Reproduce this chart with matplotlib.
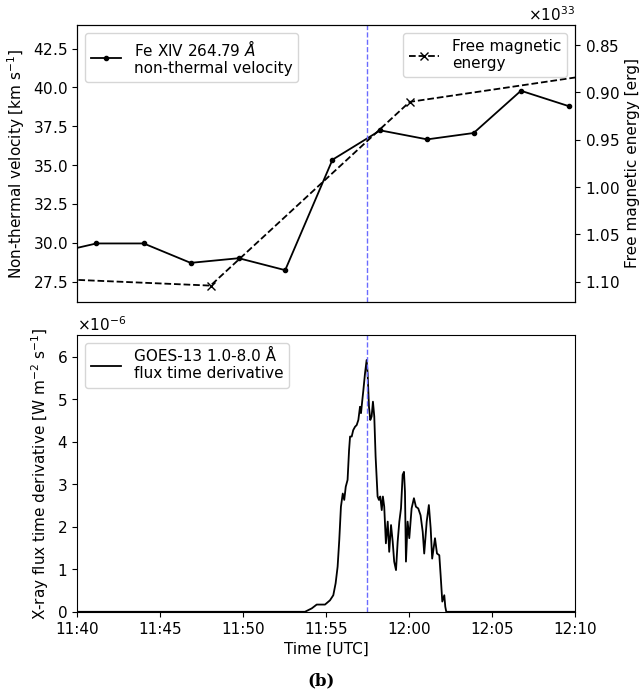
import numpy as np
import matplotlib
matplotlib.use("Agg")
import matplotlib.pyplot as plt

plt.rcParams['axes.formatter.use_mathtext'] = True
plt.rcParams['font.size'] = 11

# time in minutes after 11:40 UTC
vel_t = [-1.69, 1.16, 4.01, 6.84, 9.74, 12.54, 15.39, 18.27, 21.10, 23.90, 26.75, 29.63]
vel = [29.25, 29.95, 29.95, 28.7, 29.0, 28.23, 35.34, 37.23, 36.65, 37.06, 39.78, 38.79]

energy_t = [-3.96, 8.04, 20.04, 32.04]
energy = [1.095e33, 1.104e33, 0.910e33, 0.879e33]

# GOES derivative trace (x1e-6 W m^-2 s^-1)
goes_t = [0.0, 13.60, 13.73, 14.14, 14.44, 14.94, 15.24, 15.44, 15.58, 15.70,
          15.80, 15.90, 16.01, 16.10, 16.19, 16.30, 16.39, 16.45, 16.55, 16.64,
          16.75, 16.85, 16.95, 17.05, 17.11, 17.19, 17.25, 17.35, 17.45, 17.51,
          17.59, 17.67, 17.75, 17.83, 17.91, 17.99, 18.11, 18.19, 18.27, 18.36,
          18.43, 18.51, 18.61, 18.72, 18.81, 18.92, 19.02, 19.11, 19.22, 19.32,
          19.42, 19.52, 19.62, 19.70, 19.76, 19.82, 19.92, 20.02, 20.16, 20.30,
          20.42, 20.56, 20.70, 20.83, 20.92, 21.07, 21.20, 21.31, 21.40, 21.57,
          21.69, 21.83, 21.91, 22.01, 22.13, 22.19, 22.25, 30.0]
goes = [0.0, 0.0, 0.0, 0.08, 0.17, 0.17, 0.27, 0.39, 0.67, 1.06,
        1.69, 2.47, 2.78, 2.63, 2.94, 3.1, 3.8, 4.12, 4.12, 4.27,
        4.35, 4.39, 4.51, 4.82, 4.67, 4.98, 5.2, 5.6, 5.92, 5.6,
        4.82, 4.51, 4.59, 4.94, 4.59, 3.65, 2.71, 2.63, 2.71, 2.39,
        2.71, 2.47, 1.61, 2.12, 1.41, 2.04, 1.65, 1.18, 0.98, 1.65,
        2.12, 2.43, 3.22, 3.29, 2.82, 1.18, 2.12, 1.73, 2.43, 2.67,
        2.47, 2.43, 2.27, 1.88, 1.37, 2.12, 2.51, 1.96, 1.25, 1.73,
        1.37, 1.33, 0.86, 0.24, 0.39, 0.12, 0.0, 0.0]

tick_pos = [0, 5, 10, 15, 20, 25, 30]
tick_labels = ["11:40", "11:45", "11:50", "11:55", "12:00", "12:05", "12:10"]
vel_ticks = [27.5, 30.0, 32.5, 35.0, 37.5, 40.0, 42.5]
energy_ticks = [0.85e33, 0.90e33, 0.95e33, 1.00e33, 1.05e33, 1.10e33]
peak_t = 17.47

fig = plt.figure(figsize=(6.43, 7.0), dpi=100)
ax1 = fig.add_axes([0.12, 0.569, 0.774, 0.395])
ax3 = fig.add_axes([0.12, 0.126, 0.774, 0.395])

ax1.plot(vel_t, vel, 'k.-', lw=1.3, ms=6, label="Fe XIV 264.79 $Å$\nnon-thermal velocity")
ax1.set_xlim(0, 30)
ax1.set_ylim(26.2, 44.0)
ax1.set_yticks(vel_ticks)
ax1.set_xticks([])
ax1.set_ylabel("Non-thermal velocity [km s$^{-1}$]")
ax1.axvline(peak_t, color='#6b6bff', ls='--', lw=1)
ax1.legend(loc='upper left')

ax2 = ax1.twinx()
ax2.plot(energy_t, energy, 'k--', marker='x', lw=1.3, ms=6, label="Free magnetic\nenergy")
ax2.set_xlim(0, 30)
ax2.set_ylim(1.121e33, 0.829e33)
ax2.set_yticks(energy_ticks)
ax2.set_ylabel("Free magnetic energy [erg]")
ax2.legend(loc='upper right')

ax3.plot(goes_t, np.array(goes) * 1e-6, 'k-', lw=1.3, label="GOES-13 1.0-8.0 Å\nflux time derivative")
ax3.axvline(peak_t, color='#6b6bff', ls='--', lw=1)
ax3.set_xlim(0, 30)
ax3.set_ylim(0, 6.5e-6)
ax3.set_xticks(tick_pos)
ax3.set_xticklabels(tick_labels)
ax3.set_xlabel("Time [UTC]")
ax3.set_ylabel("X-ray flux time derivative [W m$^{-2}$ s$^{-1}$]")
ax3.legend(loc='upper left')

fig.text(0.5, 0.028, "(b)", ha='center', va='center', family='DejaVu Serif', fontweight='bold', fontsize=12)

fig.savefig("out.png", dpi=100)
